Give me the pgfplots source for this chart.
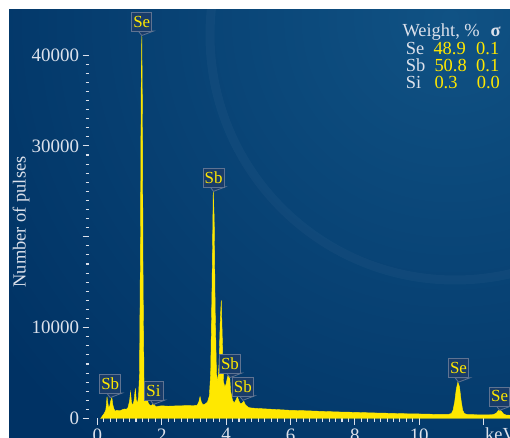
\documentclass[border=0pt]{standalone}
\usepackage{fontspec}
\setmainfont{Liberation Serif}
\usepackage{pgfplots}
\pgfplotsset{compat=1.18}
\definecolor{bgdark}{RGB}{0,50,100}
\definecolor{bglight}{RGB}{16,82,132}
\definecolor{specyel}{RGB}{255,232,0}
\definecolor{tickc}{RGB}{220,225,235}
\definecolor{lblfill}{RGB}{25,60,105}
\definecolor{lbldraw}{RGB}{95,115,145}
\tikzset{lbl/.style={draw=lbldraw, fill=lblfill, line width=0.8bp, text=specyel,
  font=\fontsize{17}{17}\selectfont, inner sep=1.5bp, minimum height=19bp, minimum width=19bp}}
\newcommand{\peaklbl}[3]{%
  \fill[lblfill, draw=lbldraw, line width=0.8bp] (axis cs:#1,#2) -- ++(-3.5bp,4.5bp) -- ++(7bp,0) -- cycle;
  \node[lbl, anchor=south, yshift=4bp] at (axis cs:#1,#2) {#3};}
\pgfplotstableread{
E C
0.10 0
0.14 200
0.18 400
0.22 600
0.26 900
0.28 1500
0.30 2400
0.32 1800
0.35 1200
0.38 1300
0.42 2000
0.45 2300
0.48 1500
0.52 1000
0.56 800
0.60 900
0.70 850
0.80 1000
0.85 1050
0.90 1000
0.95 1200
1.00 1900
1.03 2900
1.06 1800
1.10 1400
1.14 2000
1.18 3300
1.21 2000
1.25 1700
1.28 2500
1.31 5000
1.34 20000
1.36 36000
1.38 42100
1.40 34000
1.42 15000
1.45 4000
1.48 2200
1.52 2000
1.55 2300
1.58 1700
1.62 1500
1.66 1400
1.70 1500
1.74 1700
1.78 1450
1.82 1300
1.90 1350
2.00 1400
2.20 1350
2.40 1380
2.60 1400
2.80 1420
3.00 1430
3.10 1450
3.15 1800
3.19 2400
3.23 1800
3.28 1500
3.35 1600
3.42 1800
3.48 2500
3.52 5000
3.56 14000
3.60 25000
3.63 22000
3.66 12000
3.70 5000
3.74 4000
3.78 6000
3.82 11000
3.85 13000
3.88 9000
3.92 4000
3.96 3500
4.00 3800
4.04 4500
4.08 5000
4.11 4600
4.14 3000
4.20 2000
4.25 1700
4.30 2000
4.35 2400
4.40 1900
4.45 1600
4.50 1700
4.55 1900
4.60 1500
4.65 1350
4.70 1200
4.80 1150
5.00 1100
5.50 1000
6.00 900
6.50 850
7.00 780
7.50 720
8.00 680
8.50 620
9.00 580
9.50 530
10.00 500
10.50 460
10.90 450
11.00 550
11.05 900
11.10 1800
11.15 3200
11.20 4000
11.25 3500
11.30 2000
11.35 900
11.40 550
11.50 430
12.00 400
12.30 420
12.40 600
12.45 850
12.50 950
12.55 800
12.62 500
12.70 380
12.82 360
}\spectrum
\begin{document}
\begin{tikzpicture}[x=1bp,y=1bp]
\useasboundingbox (0,0) rectangle (510,438);
\clip (0,0) rectangle (510,438);
\begin{scope}
\clip (9,0) rectangle (510,428);
\fill[bgdark] (9,0) rectangle (510,428);
\shade[inner color=bglight, outer color=bgdark] (450,420) circle (560);
\draw[white, opacity=0.03, line width=9bp] (455,403) circle (245);
\end{scope}
\begin{axis}[
  at={(89bp,19.5bp)}, anchor=south west, scale only axis,
  width=421bp, height=408.5bp,
  xmin=-0.26, xmax=12.82, ymin=0, ymax=44960,
  axis x line*=bottom, axis y line*=left,
  axis line style={draw=none},
  xtick={0,2,4,6,8,10}, xticklabels={0,2,4,6,8,10},
  extra x ticks={12}, extra x tick labels={},
  ytick={0,10000,20000,30000,40000}, yticklabels={0,10000,,30000,40000},
  minor x tick num=9, minor y tick num=9,
  tick align=outside,
  major tick length=6.5bp, minor tick length=3.5bp,
  every tick/.style={color=tickc, line width=1.1bp},
  tick label style={font=\fontsize{19}{20}\selectfont, text=tickc},
  clip=false,
]
\addplot[fill=specyel, draw=specyel, line width=0.4bp] table[x=E, y=C] {\spectrum} \closedcycle;
\peaklbl{1.38}{42150}{Se}
\peaklbl{3.61}{25000}{Sb}
\peaklbl{0.40}{2300}{Sb}
\peaklbl{1.745}{1550}{Si}
\peaklbl{4.12}{4500}{Sb}
\peaklbl{4.52}{2000}{Sb}
\peaklbl{11.22}{4000}{Se}
\peaklbl{12.50}{900}{Se}
\end{axis}
\node[rotate=90, text=tickc, font=\fontsize{18.5}{20}\selectfont] at (21,216) {Number of pulses};
\node[anchor=base west, text=tickc, font=\fontsize{18.5}{20}\selectfont, inner sep=0] at (485,-2.5) {keV};
\begin{scope}[every node/.style={anchor=base west, inner sep=0, font=\fontsize{18.5}{20}\selectfont}]
\node[text=tickc] at (402.3,401.3) {Weight, \%};
\node[text=tickc] at (490.5,401.3) {\bfseries σ};
\node[text=tickc] at (405.7,383) {Se};
\node[text=specyel] at (433.3,383) {48.9};
\node[text=specyel] at (476,383) {0.1};
\node[text=tickc] at (405.7,366.3) {Sb};
\node[text=specyel] at (434.3,366.3) {50.8};
\node[text=specyel] at (476,366.3) {0.1};
\node[text=tickc] at (405.7,349) {Si};
\node[text=specyel] at (434.3,349) {0.3};
\node[text=specyel] at (476.7,349) {0.0};
\end{scope}
\end{tikzpicture}
\end{document}
